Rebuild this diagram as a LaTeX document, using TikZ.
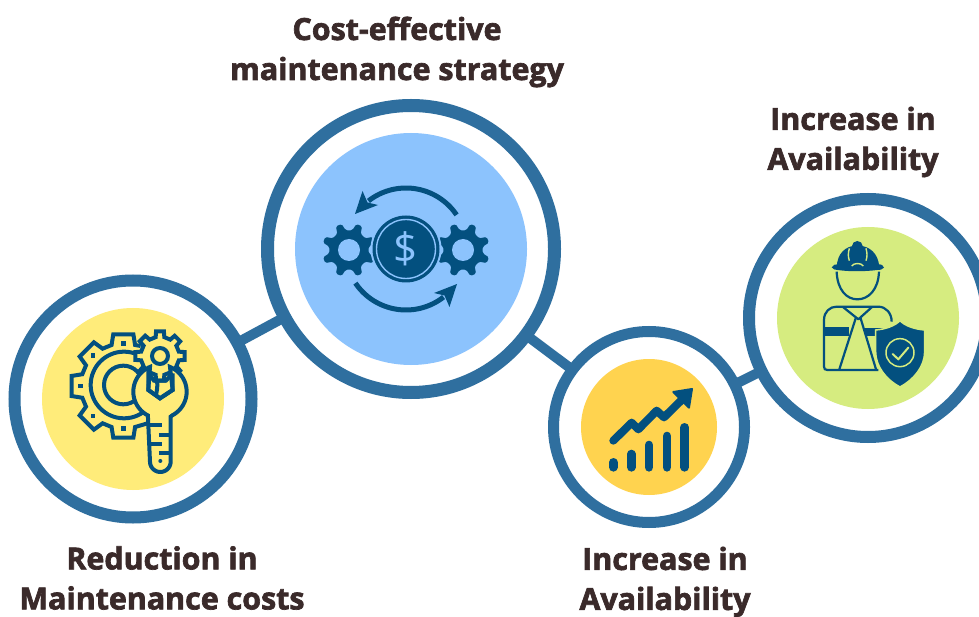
\documentclass[tikz,border=0pt]{standalone}
\usepackage{fontspec}
\setmainfont{Open Sans}[BoldFeatures={FakeBold=2.2}]
\usetikzlibrary{backgrounds}
\definecolor{ringblue}{HTML}{2F6F9F}
\definecolor{icondark}{HTML}{03507F}
\definecolor{fillyellow}{HTML}{FFEC7A}
\definecolor{fillblue}{HTML}{8CC3FD}
\definecolor{fillorange}{HTML}{FFD34F}
\definecolor{fillgreen}{HTML}{D6EC80}
\definecolor{labeltext}{HTML}{3A2A2A}
\tikzset{
  ringnode/.style={circle,draw=ringblue,fill=white,line width=#1,inner sep=0pt,outer sep=0pt},
  disc/.style={circle,inner sep=0pt,outer sep=0pt,draw=none},
  conn/.style={draw=ringblue,line width=10pt},
  lbl/.style={font=\bfseries\fontsize{30.4}{40}\selectfont,text=labeltext,align=center,inner sep=0pt},
  icon/.style={draw=icondark,line width=4pt,line join=miter},
  thinicon/.style={draw=icondark,line width=2.2pt,line join=round},
  barline/.style={draw=icondark,line width=8.6pt,line cap=round}
}
% #1 offset angle, #2 root half-angle, #3 root radius, #4 tip half-angle, #5 tip radius
\newcommand\toothedpath[5]{(#1-#2:#3) \foreach \i in {0,...,7} { -- ({#1+45*\i-#2}:#3) -- ({#1+45*\i-#4}:#5) -- ({#1+45*\i+#4}:#5) -- ({#1+45*\i+#2}:#3)} -- cycle}
\begin{document}
\begin{tikzpicture}[x=1pt,y=-1pt]
\useasboundingbox (0,0) rectangle (979,617);
\clip (0,0) rectangle (979,617);
% circles
\node[ringnode=13pt,minimum size=287pt] (big) at (411,249) {};
\node[disc,fill=fillblue,minimum size=232pt] (bigdisc) at (411,249) {};
\node[ringnode=12pt,minimum size=237pt] (left) at (133,399) {};
\node[disc,fill=fillyellow,minimum size=182pt] (leftdisc) at (133,399) {};
\node[ringnode=11pt,minimum size=191pt] (small) at (649,427) {};
\node[disc,fill=fillorange,minimum size=136pt] (smalldisc) at (649,427) {};
\node[ringnode=12pt,minimum size=238pt] (right) at (868,318) {};
\node[disc,fill=fillgreen,minimum size=182pt] (rightdisc) at (868,318) {};
\begin{pgfonlayer}{background}
\fill[white] (0,0) rectangle (979,617);
\draw[conn] (left.center) -- (big.center);
\draw[conn] (big.center) -- (small.center);
\draw[conn] (small.center) -- (right.center);
\end{pgfonlayer}
% labels
\node[lbl] (t1) at (397,52) {Cost-effective\\maintenance strategy};
\node[lbl] (t2) at (853,142) {Increase in\\Availability};
\node[lbl] (t3) at (665,582) {Increase in\\Availability};
\node[lbl] (t4) at (162,578) {Reduction in\\Maintenance costs};
% ---- money / gears icon
\begin{scope}[shift={(349,250)}]
\fill[icondark,rounded corners=1.5pt] \toothedpath{22.5}{13}{20}{6.5}{27};
\fill[fillblue] (0,0) circle (11);
\end{scope}
\begin{scope}[shift={(463,250)}]
\fill[icondark,rounded corners=1.5pt] \toothedpath{22.5}{13}{20}{6.5}{27};
\fill[fillblue] (0,0) circle (11);
\end{scope}
\fill[fillblue] (406,249) circle (35.5);
\fill[icondark] (406,249) circle (33.5);
\draw[fillblue,line width=1.4pt] (406,249) circle (29.5);
\node[text=fillblue,font=\fontsize{42}{42}\selectfont,inner sep=0pt] (dollar) at (406,249) {\$};
\draw[icondark,line width=5pt] plot[domain=-34:-128,samples=40] ({406+61*cos(\x)},{249+61*sin(\x)});
\draw[icondark,line width=5pt] plot[domain=146:52,samples=40] ({406+61*cos(\x)},{249+61*sin(\x)});
\fill[icondark] (355,214) -- (362.5,191) -- (367.5,202.5) -- (378,205) -- cycle;
\fill[icondark] (457,284) -- (449.5,307) -- (444.5,295.5) -- (434,293) -- cycle;
% ---- wrench icon (zoom coordinates)
\begin{scope}[shift={(50,320)},x=0.3333pt,y=-0.3333pt]
\draw[icon] (272,78) \foreach \a in {-90,-135,180,135,90} { -- ({220+128*cos(\a+16)},{198+128*sin(\a+16)}) -- ({220+158*cos(\a+11)},{198+158*sin(\a+11)}) -- ({220+158*cos(\a-11)},{198+158*sin(\a-11)}) -- ({220+128*cos(\a-16)},{198+128*sin(\a-16)})} -- (300,308);
\foreach \a in {-90,-135,180,135,90} \fill[icondark] ({220+128*cos(\a)-7},{198+128*sin(\a)-7}) rectangle +(14,14);
\draw[icon] (222,195) circle (100);
\draw[icon] (220,195) circle (58);
\begin{scope}[shift={(330,108)}]
\filldraw[icon,fill=fillyellow] \toothedpath{0}{13}{58}{9}{75};
\draw[icon] (0,0) circle (24);
\end{scope}
\filldraw[icon,fill=fillyellow] plot[domain=-112:-243,samples=40] ({330+80*cos(\x)},{215+80*sin(\x)})
  -- (300,425) -- plot[domain=180:0,samples=20] ({331+31*cos(\x)},{425+31*sin(\x)})
  -- (362,290) -- plot[domain=62:-68,samples=40] ({330+80*cos(\x)},{215+80*sin(\x)})
  -- (368,210) -- (330,235) -- (295,210) -- cycle;
\draw[icon] (368,160) -- (368,210) -- (330,235) -- (295,210) -- (295,160) -- (312,182) -- (348,182) -- (368,160);
\draw[icon] (300,315) -- (335,315) (327,345) -- (362,345) (300,372) -- (335,372) (327,400) -- (362,400);
\fill[icondark] (331,423) circle (6);
\end{scope}
% ---- chart icon
\begin{scope}[shift={(590,370)},x=0.3333pt,y=-0.3333pt]
\draw[barline] (70,277) -- (70,292);
\draw[barline] (124,252) -- (124,292);
\draw[barline] (177,225) -- (177,292);
\draw[barline] (231,198) -- (231,292);
\draw[barline] (284,172) -- (284,292);
\draw[icondark,line width=8pt,line cap=round,line join=round] (70,212) -- (125,158) -- (145,178) -- (200,122) -- (222,142) -- (280,85);
\filldraw[icondark,line width=2pt,line join=round] (250,66) -- (306,57) -- (297,113) -- cycle;
\end{scope}
% ---- worker icon
\begin{scope}[shift={(800,230)},x=0.3333pt,y=-0.3333pt]
\draw[thinicon] (110,125) .. controls (112,180) and (140,208) .. (172,208) .. controls (205,208) and (235,180) .. (237,125);
\fill[icondark] (110,112) .. controls (112,70) and (135,48) .. (172,46) .. controls (210,48) and (235,70) .. (238,112) -- cycle;
\fill[icondark] (172,48) ellipse (16 and 15);
\fill[icondark] (95,112) .. controls (100,104) and (105,103) .. (112,103) -- (235,103) .. controls (245,103) and (250,106) .. (252,113) .. controls (245,120) and (240,120) .. (232,120) .. controls (190,125) and (150,125) .. (112,120) .. controls (105,120) and (100,118) .. (95,112) -- cycle;
\draw[fillgreen,line width=1.4pt] (148,55) .. controls (144,70) and (144,80) .. (148,92);
\draw[fillgreen,line width=1.4pt] (198,55) .. controls (202,70) and (202,80) .. (198,92);
\draw[fillgreen,line width=1.4pt] (155,108) .. controls (162,98) and (183,98) .. (190,108);
% body
\draw[thinicon] (235,420) -- (82,420) .. controls (75,420) and (72,417) .. (72,410) -- (72,270) .. controls (72,245) and (90,230) .. (110,230) -- (235,230) .. controls (258,230) and (275,250) .. (275,275);
\fill[icondark] (73,292) rectangle (148,318);
\fill[icondark] (195,295) rectangle (262,318);
\draw[thinicon] (130,232) -- (175,268) -- (215,232);
\draw[thinicon] (168,262) -- (118,418);
\draw[thinicon] (181,262) -- (228,418);
% shield
\filldraw[icondark,draw=fillgreen,line width=1.5pt] (300,272) .. controls (315,288) and (345,298) .. (374,300) -- (374,365) .. controls (374,410) and (340,450) .. (300,471) .. controls (260,450) and (227,410) .. (227,365) -- (227,300) .. controls (255,298) and (285,288) .. (300,272) -- cycle;
\draw[fillgreen,line width=1.5pt] (300,368) circle (42);
\draw[fillgreen,line width=2pt,line cap=round,line join=round] (278,372) -- (295,388) -- (325,353);
\end{scope}
\end{tikzpicture}
\end{document}
